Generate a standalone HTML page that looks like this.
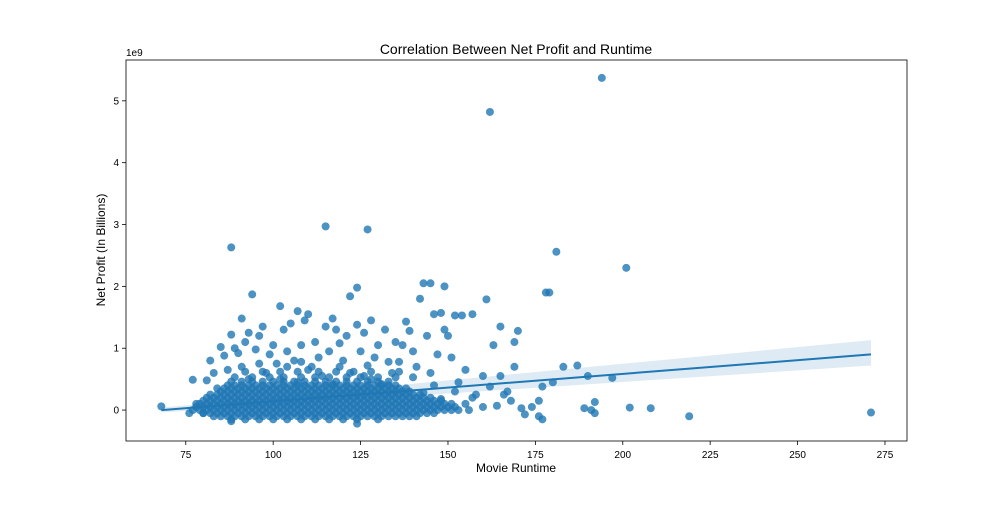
<!DOCTYPE html>
<html><head><meta charset="utf-8"><style>
body{margin:0;background:#fff;}
svg text{font-family:"Liberation Sans",sans-serif;fill:#000;}
</style></head><body>
<svg id="chart" width="1008" height="504" xmlns="http://www.w3.org/2000/svg">
<rect x="0" y="0" width="1008" height="504" fill="#fff"/>
<text x="516" y="54" font-size="14" text-anchor="middle">Correlation Between Net Profit and Runtime</text>
<text x="126" y="56" font-size="10">1e9</text>
<text x="516" y="472" font-size="12" text-anchor="middle">Movie Runtime</text>
<text x="105" y="250" font-size="12" text-anchor="middle" transform="rotate(-90 105 250)">Net Profit (In Billions)</text>
<g id="marks"></g>
<g id="axes"></g>
</svg>
<script>
const xTicks=[75,100,125,150,175,200,225,250,275];
const yTicks=[0,1,2,3,4,5];
const runtime=[194,162,115,127,88,181,201,178,179,94,143,145,149,124,161,142,122,102,152,154,157,148,107,110,91,128,138,165,170,190,197,183,187,180,177,189,191,192,192,202,208,219,271,68,77,176,176,174,172,177,171,168,167,169,169,164,166,160,163,158,156,155,153,151,150,149,147,145,146,144,140,139,137,136,135,132,130,129,126,125,124,121,120,119,117,116,118,115,113,112,111,109,108,106,105,104,103,101,100,99,97,96,95,93,92,90,89,88,87,86,85,82,81,83,84,88,124,80,76,78,98,102,110,114,122,128,134,141,146,152,157,162,93,107,117,131,138,143,148,155,160,165,91,96,104,108,119,127,133,126];
const profit=[5.37,4.82,2.97,2.92,2.63,2.56,2.30,1.90,1.90,1.87,2.05,2.05,2.0,1.98,1.79,1.8,1.84,1.68,1.53,1.53,1.55,1.57,1.6,1.55,1.48,1.45,1.43,1.35,1.28,0.55,0.52,0.70,0.72,0.45,0.38,0.03,0.0,-0.05,0.13,0.04,0.03,-0.1,-0.04,0.06,0.49,0.15,-0.1,0.05,-0.07,-0.15,0.03,0.15,0.3,0.7,1.1,0.07,0.25,0.55,1.05,0.25,0.0,0.65,0.45,0.85,1.2,1.3,0.9,0.6,1.55,1.2,0.95,1.28,1.05,0.78,1.1,1.3,1.05,0.85,1.25,0.95,1.38,1.2,0.8,1.08,1.48,0.95,1.3,1.35,0.85,1.1,0.7,1.45,1.05,0.8,1.4,0.95,1.3,0.75,1.05,0.9,1.35,1.2,0.98,1.25,1.1,0.92,1.0,1.22,0.65,0.88,1.02,0.8,0.48,0.6,0.35,-0.18,-0.22,-0.05,-0.05,0.1,0.6,0.5,0.65,0.55,0.6,0.5,0.6,0.7,0.4,0.3,0.2,0.38,0.5,0.45,0.42,0.42,0.35,0.28,0.18,0.1,0.05,0.55,0.7,0.75,0.7,0.78,0.7,0.72,0.78,0.55];
const blobProfit=[-0.15,-0.10,-0.05,0.00,0.05,0.10,0.15,0.20,0.25,0.30,0.35,0.40,0.46,0.53,0.62];
const blobRuntimes=[
[88,92,96,100,104,108,112,116,120,124,130],
[83,85,87,89,91,93,95,97,99,101,103,105,107,109,111,113,115,117,119,121,123,125,127,129,131,133,135,137,139,141],
[80,82,84,86,88,90,92,94,96,98,100,102,104,106,108,110,112,114,116,118,120,122,124,126,128,130,132,134,136,138,140,142,144,146],
[77,79,81,83,85,87,89,91,93,95,97,99,101,103,105,107,109,111,113,115,117,119,121,123,125,127,129,131,133,135,137,139,141,143,145,147,149,151,153],
[78,80,82,84,86,88,90,92,94,96,98,100,102,104,106,108,110,112,114,116,118,120,122,124,126,128,130,132,134,136,138,140,142,144,146,148,150,152],
[79,81,83,85,87,89,91,93,95,97,99,101,103,105,107,109,111,113,115,117,119,121,123,125,127,129,131,133,135,137,139,141,143,145,147,149,151],
[80,82,84,86,88,90,92,94,96,98,100,102,104,106,108,110,112,114,116,118,120,122,124,126,128,130,132,134,136,138,140,142,144,146,148],
[81,83,85,87,89,91,93,95,97,99,101,103,105,107,109,111,113,115,117,119,121,123,125,127,129,131,133,135,137,139,141,143,145],
[82,84,86,88,90,92,94,96,98,100,102,104,106,108,110,112,114,116,118,120,122,124,126,128,130,132,134,136,138,140,142],
[85,87,89,91,93,95,97,99,101,103,105,107,109,111,113,115,117,119,121,123,125,127,129,131,133,135,137,139],
[86,88,90,92,94,96,98,100,102,104,106,108,110,112,114,116,118,120,122,124,126,128,130,132,134,136],
[87,89,91,93,95,97,99,101,103,105,107,109,111,113,115,117,119,121,123,125,127,129,131,133,135],
[88,91,94,97,100,103,106,109,112,115,118,121,124,127,130,133],
[89,94,99,103,108,112,116,121,125,130,135,140],
[92,97,102,107,113,118,123,128,136]];
const regX=[68,271];
const regY=[0.0,0.90];
const bandLo=[-0.04,0.72];
const bandHi=[0.04,1.13];

const L=126,R=907,T=60,B=441;
const xMin=57.9,xMax=281.3,yMin=-0.5,yMax=5.66;
const sx=v=>L+(v-xMin)/(xMax-xMin)*(R-L);
const sy=v=>B-(v-yMin)/(yMax-yMin)*(B-T);
const NS='http://www.w3.org/2000/svg';
const marks=document.getElementById('marks');
const axes=document.getElementById('axes');
function mk(tag,attrs,parent){const e=document.createElementNS(NS,tag);for(const k in attrs)e.setAttribute(k,attrs[k]);parent.appendChild(e);return e;}

blobProfit.forEach((p,i)=>{blobRuntimes[i].forEach(r=>{
  const c=mk('circle',{cx:sx(r),cy:sy(p),r:4,fill:'#1f77b4','fill-opacity':0.8},marks);
  
  
});});
runtime.forEach((r,i)=>{
  const c=mk('circle',{cx:sx(r),cy:sy(profit[i]),r:4,fill:'#1f77b4','fill-opacity':0.8},marks);
  
  
});
const band=mk('polygon',{points:`${sx(regX[0])},${sy(bandLo[0])} ${sx(regX[1])},${sy(bandLo[1])} ${sx(regX[1])},${sy(bandHi[1])} ${sx(regX[0])},${sy(bandHi[0])}`,fill:'#1f77b4','fill-opacity':0.15},marks);


const line=mk('line',{x1:sx(regX[0]),y1:sy(regY[0]),x2:sx(regX[1]),y2:sy(regY[1]),stroke:'#1f77b4','stroke-width':2},marks);



const frame=mk('rect',{x:L,y:T,width:R-L,height:B-T,fill:'none',stroke:'#000','stroke-width':0.8},axes);


xTicks.forEach(t=>{
  const x=sx(t);
  mk('line',{x1:x,y1:B,x2:x,y2:B+4,stroke:'#000','stroke-width':0.8},axes);
  const tx=mk('text',{x:x,y:B+17,'font-size':10,'text-anchor':'middle'},axes);
  tx.textContent=t;
  
  
});
yTicks.forEach(t=>{
  const y=sy(t);
  mk('line',{x1:L-4,y1:y,x2:L,y2:y,stroke:'#000','stroke-width':0.8},axes);
  const tx=mk('text',{x:L-7,y:y+3.5,'font-size':10,'text-anchor':'end'},axes);
  tx.textContent=t;
  
  
});
</script>
</body></html>
